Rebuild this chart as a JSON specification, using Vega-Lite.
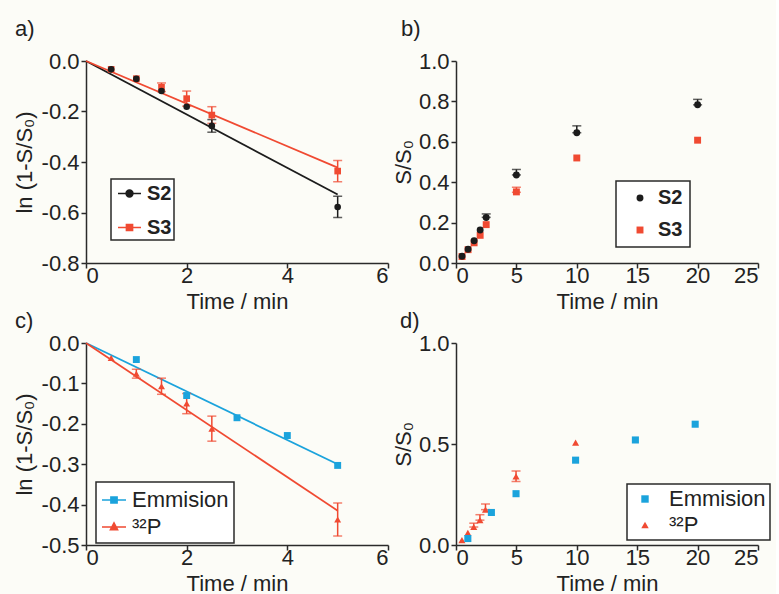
{
  "$schema": "https://vega.github.io/schema/vega-lite/v6.json",
  "background": "#fcfcf7",
  "padding": {"left": 13, "top": 18, "right": 5, "bottom": 5},
  "columns": 2,
  "spacing": {"row": 80, "column": 68},
  "bounds": "flush",
  "resolve": {"scale": {"color": "independent", "shape": "independent", "x": "independent", "y": "independent"}, "legend": {"color": "independent", "shape": "independent"}},
  "config": {
    "locale": {"number": {"decimal": ".", "thousands": ",", "grouping": [3], "currency": ["$", ""], "minus": "-"}},
    "view": {"stroke": null},
    "font": "Liberation Sans",
    "axis": {
      "grid": false,
      "domainColor": "#2a2a2a",
      "domainWidth": 1.5,
      "tickColor": "#2a2a2a",
      "tickWidth": 1.5,
      "tickSize": 5,
      "labelFont": "Liberation Sans",
      "labelFontSize": 22,
      "labelColor": "#222222",
      "titleFont": "Liberation Sans",
      "titleFontSize": 22,
      "titleFontWeight": "normal",
      "titleColor": "#222222"
    },
    "axisX": {"titlePadding": 5, "labelPadding": -3},
    "axisY": {"titlePadding": 5, "labelPadding": 2},
    "title": {"font": "Liberation Sans", "fontSize": 22, "fontWeight": "normal", "color": "#222222", "anchor": "start", "frame": "group"},
    "legend": {"labelFont": "Liberation Sans", "labelColor": "#222222", "strokeColor": "#2a2a2a", "fillColor": "#ffffff", "orient": "none", "symbolOpacity": 1}
  },
  "datasets": {
    "aFit": [
      {"series": "S2", "t": 0, "v": 0}, {"series": "S2", "t": 5, "v": -0.529},
      {"series": "S3", "t": 0, "v": 0}, {"series": "S3", "t": 5, "v": -0.422}
    ],
    "aErr": [
      {"series": "S3", "t": 1.5, "lo": -0.121, "hi": -0.087},
      {"series": "S3", "t": 2, "lo": -0.179, "hi": -0.119},
      {"series": "S3", "t": 2.5, "lo": -0.247, "hi": -0.181},
      {"series": "S3", "t": 5, "lo": -0.478, "hi": -0.394},
      {"series": "S2", "t": 2.5, "lo": -0.282, "hi": -0.232},
      {"series": "S2", "t": 5, "lo": -0.62, "hi": -0.536}
    ],
    "aPts": [
      {"series": "S3", "t": 0.5, "v": -0.033}, {"series": "S3", "t": 1, "v": -0.07},
      {"series": "S3", "t": 1.5, "v": -0.104}, {"series": "S3", "t": 2, "v": -0.149},
      {"series": "S3", "t": 2.5, "v": -0.214}, {"series": "S3", "t": 5, "v": -0.436},
      {"series": "S2", "t": 0.5, "v": -0.033}, {"series": "S2", "t": 1, "v": -0.071},
      {"series": "S2", "t": 1.5, "v": -0.119}, {"series": "S2", "t": 2, "v": -0.181},
      {"series": "S2", "t": 2.5, "v": -0.257}, {"series": "S2", "t": 5, "v": -0.578}
    ],
    "bErr": [
      {"series": "S3", "t": 5, "lo": 0.35, "hi": 0.375},
      {"series": "S2", "t": 2.5, "lo": 0.226, "hi": 0.243},
      {"series": "S2", "t": 5, "lo": 0.436, "hi": 0.463},
      {"series": "S2", "t": 10, "lo": 0.645, "hi": 0.679},
      {"series": "S2", "t": 20, "lo": 0.783, "hi": 0.81}
    ],
    "bPts": [
      {"series": "S3", "t": 0.5, "v": 0.032}, {"series": "S3", "t": 1, "v": 0.066},
      {"series": "S3", "t": 1.5, "v": 0.1}, {"series": "S3", "t": 2, "v": 0.137},
      {"series": "S3", "t": 2.5, "v": 0.19}, {"series": "S3", "t": 5, "v": 0.352},
      {"series": "S3", "t": 10, "v": 0.52}, {"series": "S3", "t": 20, "v": 0.608},
      {"series": "S2", "t": 0.5, "v": 0.033}, {"series": "S2", "t": 1, "v": 0.068},
      {"series": "S2", "t": 1.5, "v": 0.11}, {"series": "S2", "t": 2, "v": 0.163},
      {"series": "S2", "t": 2.5, "v": 0.225}, {"series": "S2", "t": 5, "v": 0.436},
      {"series": "S2", "t": 10, "v": 0.645}, {"series": "S2", "t": 20, "v": 0.783}
    ],
    "cFit": [
      {"series": "Emmision", "t": 0, "v": 0}, {"series": "Emmision", "t": 5, "v": -0.3},
      {"series": "32P", "t": 0, "v": 0}, {"series": "32P", "t": 5, "v": -0.415}
    ],
    "cErr": [
      {"series": "32P", "t": 1, "lo": -0.087, "hi": -0.065},
      {"series": "32P", "t": 1.5, "lo": -0.127, "hi": -0.087},
      {"series": "32P", "t": 2, "lo": -0.175, "hi": -0.125},
      {"series": "32P", "t": 2.5, "lo": -0.243, "hi": -0.181},
      {"series": "32P", "t": 5, "lo": -0.478, "hi": -0.396}
    ],
    "cPts": [
      {"series": "32P", "t": 0.5, "v": -0.037}, {"series": "32P", "t": 1, "v": -0.076},
      {"series": "32P", "t": 1.5, "v": -0.107}, {"series": "32P", "t": 2, "v": -0.15},
      {"series": "32P", "t": 2.5, "v": -0.212}, {"series": "32P", "t": 5, "v": -0.437},
      {"series": "Emmision", "t": 1, "v": -0.041}, {"series": "Emmision", "t": 2, "v": -0.13},
      {"series": "Emmision", "t": 3, "v": -0.185}, {"series": "Emmision", "t": 4, "v": -0.229},
      {"series": "Emmision", "t": 5, "v": -0.303}
    ],
    "dErr": [
      {"series": "32P", "t": 1.47, "lo": 0.089, "hi": 0.108},
      {"series": "32P", "t": 1.98, "lo": 0.123, "hi": 0.15},
      {"series": "32P", "t": 2.44, "lo": 0.175, "hi": 0.203},
      {"series": "32P", "t": 4.97, "lo": 0.314, "hi": 0.366}
    ],
    "dPts": [
      {"series": "32P", "t": 0.49, "v": 0.024}, {"series": "32P", "t": 0.98, "v": 0.06},
      {"series": "32P", "t": 1.47, "v": 0.089}, {"series": "32P", "t": 1.98, "v": 0.123},
      {"series": "32P", "t": 2.44, "v": 0.175}, {"series": "32P", "t": 4.97, "v": 0.34},
      {"series": "32P", "t": 9.9, "v": 0.507},
      {"series": "Emmision", "t": 0.98, "v": 0.032}, {"series": "Emmision", "t": 2.93, "v": 0.161},
      {"series": "Emmision", "t": 4.97, "v": 0.254}, {"series": "Emmision", "t": 9.9, "v": 0.42},
      {"series": "Emmision", "t": 14.85, "v": 0.52}, {"series": "Emmision", "t": 19.8, "v": 0.598}
    ]
  },
  "concat": [
    {
      "title": {"text": "a)", "dx": -71, "dy": -5},
      "width": 302,
      "height": 202,
      "resolve": {"legend": {"color": "independent", "shape": "independent"}},
      "encoding": {
        "x": {"field": "t", "type": "quantitative", "scale": {"domain": [0, 6], "nice": false}, "axis": {"values": [0, 2, 4, 6], "title": "Time / min"}},
        "y": {"field": "v", "type": "quantitative", "scale": {"domain": [-0.8, 0], "nice": false, "zero": false}, "axis": {"values": [0, -0.2, -0.4, -0.6, -0.8], "format": ".1f", "title": "ln (1-S/S₀)"}}
      },
      "layer": [
        {
          "data": {"name": "aFit"},
          "mark": {"type": "line", "strokeWidth": 1.8},
          "encoding": {
            "color": {"field": "series", "type": "nominal", "scale": {"domain": ["S2", "S3"], "range": ["#1c1c1c", "#f04a32"]},
              "legend": {"title": null, "legendX": 25, "legendY": 118, "padding": 2, "symbolOffset": 4, "labelOffset": 5, "rowPadding": 11, "symbolSize": 529, "labelFontSize": 20, "labelFontWeight": "bold",
                "encode": {
                  "legend": {"update": {"strokeWidth": {"value": 1.5}}},
                  "symbols": {"update": {
                    "shape": {"signal": "datum.value === 'S2' ? 'M-1,0H1M-0.3,0A0.3,0.3 0 1,0 0.3,0A0.3,0.3 0 1,0 -0.3,0Z' : 'M-1,0H1M-0.27,-0.27H0.27V0.27H-0.27Z'"},
                    "fill": {"signal": "datum.value === 'S2' ? '#1c1c1c' : '#f04a32'"},
                    "stroke": {"signal": "datum.value === 'S2' ? '#1c1c1c' : '#f04a32'"},
                    "strokeWidth": {"value": 1.5},
                    "opacity": {"value": 1}
                  }}
                }}}
          }
        },
        {
          "data": {"name": "aErr"},
          "mark": {"type": "errorbar", "ticks": true, "size": 9, "thickness": 1.5},
          "encoding": {
            "y": {"field": "lo", "type": "quantitative"},
            "y2": {"field": "hi"},
            "color": {"field": "series", "type": "nominal", "legend": null}
          }
        },
        {
          "data": {"name": "aPts"},
          "mark": {"type": "point", "filled": true, "size": 44, "opacity": 1},
          "encoding": {
            "color": {"field": "series", "type": "nominal", "legend": null},
            "shape": {"field": "series", "type": "nominal", "scale": {"domain": ["S2", "S3"], "range": ["circle", "square"]}, "legend": null}
          }
        }
      ]
    },
    {
      "title": {"text": "b)", "dx": -55, "dy": -5},
      "width": 302,
      "height": 202,
      "resolve": {"legend": {"color": "independent", "shape": "independent"}},
      "encoding": {
        "x": {"field": "t", "type": "quantitative", "scale": {"domain": [0, 25], "nice": false}, "axis": {"values": [0, 5, 10, 15, 20, 25], "title": "Time / min"}},
        "y": {"field": "v", "type": "quantitative", "scale": {"domain": [0, 1], "nice": false}, "axis": {"values": [0, 0.2, 0.4, 0.6, 0.8, 1.0], "format": ".1f", "title": "S/S₀", "titlePadding": 3}}
      },
      "layer": [
        {
          "data": {"name": "bErr"},
          "mark": {"type": "errorbar", "ticks": true, "size": 9, "thickness": 1.5},
          "encoding": {
            "y": {"field": "lo", "type": "quantitative"},
            "y2": {"field": "hi"},
            "color": {"field": "series", "type": "nominal", "scale": {"domain": ["S2", "S3"], "range": ["#1c1c1c", "#f04a32"]}, "legend": null}
          }
        },
        {
          "data": {"name": "bPts"},
          "mark": {"type": "point", "filled": true, "size": 48, "opacity": 1},
          "encoding": {
            "color": {"field": "series", "type": "nominal",
              "legend": {"title": null, "legendX": 160, "legendY": 120, "padding": 7, "symbolOffset": 7, "labelOffset": 8, "rowPadding": 12, "symbolSize": 48, "labelFontSize": 20, "labelFontWeight": "bold",
                "encode": {
                  "legend": {"update": {"strokeWidth": {"value": 1.5}}},
                  "symbols": {"update": {
                    "shape": {"signal": "datum.value === 'S2' ? 'circle' : 'square'"},
                    "fill": {"signal": "datum.value === 'S2' ? '#1c1c1c' : '#f04a32'"},
                    "stroke": {"value": null},
                    "opacity": {"value": 1}
                  }}
                }}},
            "shape": {"field": "series", "type": "nominal", "scale": {"domain": ["S2", "S3"], "range": ["circle", "square"]}, "legend": null}
          }
        }
      ]
    },
    {
      "title": {"text": "c)", "dx": -71, "dy": 5},
      "width": 302,
      "height": 202,
      "resolve": {"legend": {"color": "independent", "shape": "independent"}},
      "encoding": {
        "x": {"field": "t", "type": "quantitative", "scale": {"domain": [0, 6], "nice": false}, "axis": {"values": [0, 2, 4, 6], "title": "Time / min"}},
        "y": {"field": "v", "type": "quantitative", "scale": {"domain": [-0.5, 0], "nice": false, "zero": false}, "axis": {"values": [0, -0.1, -0.2, -0.3, -0.4, -0.5], "format": ".1f", "title": "ln (1-S/S₀)"}}
      },
      "layer": [
        {
          "data": {"name": "cFit"},
          "mark": {"type": "line", "strokeWidth": 1.8},
          "encoding": {
            "color": {"field": "series", "type": "nominal", "scale": {"domain": ["Emmision", "32P"], "range": ["#1ba3dc", "#f04a32"]},
              "legend": {"title": null, "legendX": 10, "legendY": 139, "padding": 5, "symbolOffset": 0, "labelOffset": 5, "rowPadding": 3, "symbolSize": 576, "labelFontSize": 22,
                "labelExpr": "datum.value === '32P' ? '³²P' : datum.value",
                "encode": {
                  "legend": {"update": {"strokeWidth": {"value": 1.5}}},
                  "symbols": {"update": {
                    "shape": {"signal": "datum.value === 'Emmision' ? 'M-1,0H1M-0.26,-0.26H0.26V0.26H-0.26Z' : 'M-1,0H1M0,-0.34L0.3,0.22H-0.3Z'"},
                    "fill": {"signal": "datum.value === 'Emmision' ? '#1ba3dc' : '#f04a32'"},
                    "stroke": {"signal": "datum.value === 'Emmision' ? '#1ba3dc' : '#f04a32'"},
                    "strokeWidth": {"value": 1.5},
                    "opacity": {"value": 1}
                  }}
                }}}
          }
        },
        {
          "data": {"name": "cErr"},
          "mark": {"type": "errorbar", "ticks": true, "size": 9, "thickness": 1.5},
          "encoding": {
            "y": {"field": "lo", "type": "quantitative"},
            "y2": {"field": "hi"},
            "color": {"field": "series", "type": "nominal", "legend": null}
          }
        },
        {
          "data": {"name": "cPts"},
          "mark": {"type": "point", "filled": true, "size": 48, "opacity": 1},
          "encoding": {
            "color": {"field": "series", "type": "nominal", "legend": null},
            "shape": {"field": "series", "type": "nominal", "scale": {"domain": ["Emmision", "32P"], "range": ["square", "triangle-up"]}, "legend": null}
          }
        }
      ]
    },
    {
      "title": {"text": "d)", "dx": -56, "dy": 5},
      "width": 302,
      "height": 202,
      "resolve": {"legend": {"color": "independent", "shape": "independent"}},
      "encoding": {
        "x": {"field": "t", "type": "quantitative", "scale": {"domain": [0, 25], "nice": false}, "axis": {"values": [0, 5, 10, 15, 20, 25], "title": "Time / min"}},
        "y": {"field": "v", "type": "quantitative", "scale": {"domain": [0, 1], "nice": false}, "axis": {"values": [0, 0.5, 1.0], "format": ".1f", "title": "S/S₀", "titlePadding": 3}}
      },
      "layer": [
        {
          "data": {"name": "dErr"},
          "mark": {"type": "errorbar", "ticks": true, "size": 9, "thickness": 1.5},
          "encoding": {
            "y": {"field": "lo", "type": "quantitative"},
            "y2": {"field": "hi"},
            "color": {"field": "series", "type": "nominal", "scale": {"domain": ["Emmision", "32P"], "range": ["#1ba3dc", "#f04a32"]}, "legend": null}
          }
        },
        {
          "data": {"name": "dPts"},
          "mark": {"type": "point", "filled": true, "size": 50, "opacity": 1},
          "encoding": {
            "color": {"field": "series", "type": "nominal",
              "legend": {"title": null, "legendX": 171, "legendY": 141, "padding": 4, "symbolOffset": 3, "labelOffset": 13, "rowPadding": 4, "symbolSize": 55, "labelFontSize": 22,
                "labelExpr": "datum.value === '32P' ? '³²P' : datum.value",
                "encode": {
                  "legend": {"update": {"strokeWidth": {"value": 1.5}}},
                  "symbols": {"update": {
                    "shape": {"signal": "datum.value === 'Emmision' ? 'square' : 'triangle-up'"},
                    "fill": {"signal": "datum.value === 'Emmision' ? '#1ba3dc' : '#f04a32'"},
                    "stroke": {"value": null},
                    "opacity": {"value": 1}
                  }}
                }}},
            "shape": {"field": "series", "type": "nominal", "scale": {"domain": ["Emmision", "32P"], "range": ["square", "triangle-up"]}, "legend": null}
          }
        }
      ]
    }
  ]
}
